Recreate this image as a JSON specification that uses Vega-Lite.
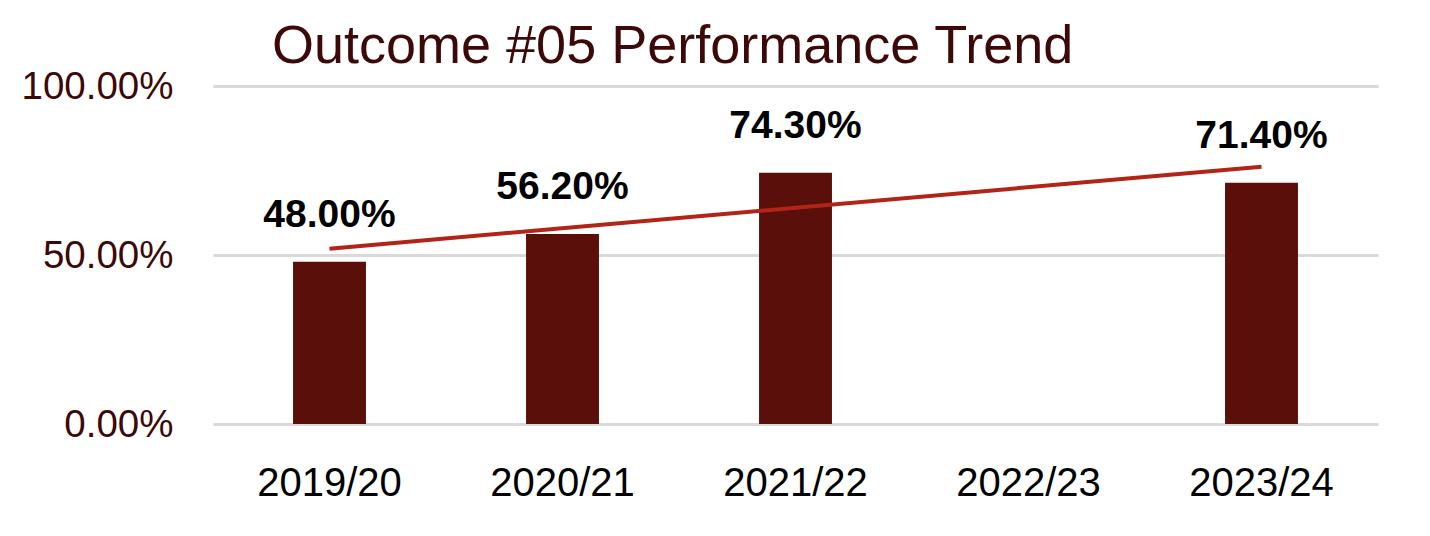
{
  "$schema": "https://vega.github.io/schema/vega-lite/v6.json",
  "autosize": "none",
  "padding": {"left": 213, "top": 86, "right": 52, "bottom": 112},
  "width": 1165,
  "height": 338,
  "background": "white",
  "title": {
    "text": "Outcome #05 Performance Trend",
    "anchor": "start",
    "frame": "group",
    "dx": 59,
    "dy": 61,
    "offset": 0,
    "baseline": "bottom",
    "font": "Liberation Sans",
    "fontSize": 54,
    "fontWeight": "normal",
    "color": "#3d0808"
  },
  "datasets": {
    "scores": [
      {"year": "2019/20", "score": 0.48},
      {"year": "2020/21", "score": 0.562},
      {"year": "2021/22", "score": 0.743},
      {"year": "2022/23", "score": null},
      {"year": "2023/24", "score": 0.714}
    ],
    "trend": [
      {"year": "2019/20", "trend": 0.5186},
      {"year": "2023/24", "trend": 0.7612}
    ]
  },
  "encoding": {
    "x": {
      "field": "year",
      "type": "nominal",
      "scale": {
        "domain": ["2019/20", "2020/21", "2021/22", "2022/23", "2023/24"],
        "paddingInner": 0.687,
        "paddingOuter": 0.3435
      },
      "axis": {
        "title": null,
        "labelAngle": 0,
        "labelFont": "Liberation Sans",
        "labelFontSize": 40,
        "labelColor": "#000000",
        "labelBaseline": "alphabetic",
        "labelPadding": 71,
        "ticks": false,
        "tickSize": 0,
        "domain": false,
        "grid": false
      }
    }
  },
  "layer": [
    {
      "data": {"name": "scores"},
      "mark": {"type": "bar", "color": "#5a0f0a"},
      "encoding": {
        "y": {
          "field": "score",
          "type": "quantitative",
          "scale": {"domain": [0, 1]},
          "axis": {
            "title": null,
            "values": [0, 0.5, 1],
            "format": ".2%",
            "labelFont": "Liberation Sans",
            "labelFontSize": 38.5,
            "labelColor": "#3d0808",
            "labelPadding": 40,
            "ticks": false,
            "domain": false,
            "grid": true,
            "gridColor": "#d9d9d9",
            "gridWidth": 3
          }
        }
      }
    },
    {
      "data": {"name": "scores"},
      "mark": {
        "type": "text",
        "font": "Liberation Sans",
        "fontSize": 39,
        "fontWeight": "bold",
        "color": "#000000",
        "baseline": "alphabetic",
        "dy": -35
      },
      "encoding": {
        "y": {"field": "score", "type": "quantitative"},
        "text": {"field": "score", "type": "quantitative", "format": ".2%"}
      }
    },
    {
      "data": {"name": "trend"},
      "mark": {"type": "line", "color": "#b22318", "strokeWidth": 4},
      "encoding": {
        "y": {"field": "trend", "type": "quantitative"}
      }
    }
  ],
  "config": {
    "view": {"stroke": null}
  }
}
